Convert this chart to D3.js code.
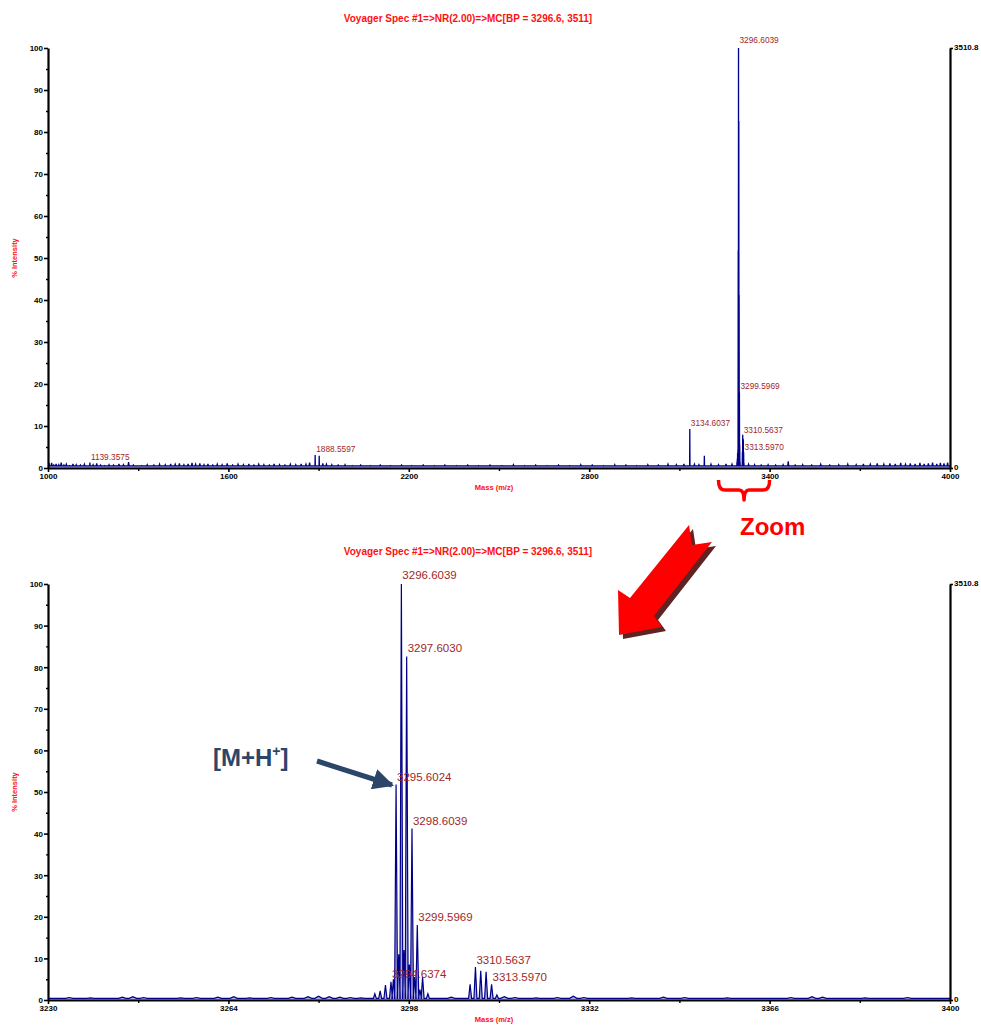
<!DOCTYPE html>
<html><head><meta charset="utf-8">
<script src="https://cdn.jsdelivr.net/npm/d3@7"></script>
<style>
body{margin:0;background:#fff;}
svg{display:block;font-family:"Liberation Sans",Arial,sans-serif;}
</style></head>
<body>
<svg id="c" width="981" height="1025"></svg>
<script>
// ---------------- DATA ----------------
const titleText = "Voyager Spec #1=>NR(2.00)=>MC[BP = 3296.6, 3511]";
const rightTopLabel = "3510.8";
const topXTicks = [1000, 1600, 2200, 2800, 3400, 4000];
const topXMinor = [1300, 1900, 2500, 3100, 3700];
const botXTicks = [3230, 3264, 3298, 3332, 3366, 3400];
const botXMinor = [3247, 3281, 3315, 3349, 3383];
const yTicks = [0,10,20,30,40,50,60,70,80,90,100];
const yMinor = [5,15,25,35,45,55,65,75,85,95];

// isotope cluster around m/z 3296 : [m/z, % intensity]
const clusterPeaks = [
  [3291.6,1.5],[3292.6,2.2],[3293.6,3.6],[3294.64,4.4],
  [3295.10,5.0],[3295.60,51.8],[3296.10,11],[3296.60,100],[3297.10,12],[3297.60,82.6],
  [3298.10,8.5],[3298.60,41.2],[3299.10,5.5],[3299.60,18.0],[3300.10,2.5],[3300.60,5.6],[3301.6,1.5],
  [3309.55,3.8],[3310.56,7.9],[3311.56,7.0],[3312.57,6.8],[3313.60,3.8],[3314.6,1.2]
];
// other peaks in the full-range spectrum
const otherPeaks = [[1139.36,1.3],[1888.56,3.1],[1902,2.9],[3134.60,9.3],[3183,2.9]];
// baseline noise, full range
const fullNoise = [
 [1004,0.9],[1012,1.2],[1019,0.7],[1027,1.0],[1036,0.8],[1044,1.3],[1053,0.7],[1061,0.9],[1072,0.6],[1083,1.0],
 [1094,0.8],[1108,0.7],[1121,0.9],[1150,0.8],[1162,1.1],[1175,0.7],[1188,0.6],[1203,0.8],[1218,0.7],[1236,1.0],
 [1251,0.8],[1268,1.4],[1284,0.7],[1312,0.6],[1330,0.8],[1352,0.7],[1371,0.9],[1390,0.8],[1408,1.0],[1423,0.9],
 [1437,1.1],[1452,0.8],[1466,1.0],[1479,1.2],[1491,0.9],[1505,1.1],[1519,0.8],[1532,1.0],[1548,0.7],[1563,0.9],
 [1579,0.8],[1596,1.1],[1614,0.7],[1632,0.9],[1650,0.8],[1668,1.0],[1685,0.7],[1701,0.9],[1718,0.8],[1736,0.7],
 [1752,1.0],[1770,0.8],[1788,0.7],[1806,0.9],[1824,0.8],[1842,1.0],[1858,0.9],[1870,1.3],[1914,1.1],[1926,0.9],
 [1944,0.8],[1965,0.7],[1988,0.8],[2012,0.6],[2040,0.7],[2072,0.6],[2105,0.7],[2140,0.6],[2176,0.7],[2210,0.6],
 [2248,0.7],[2285,0.6],[2320,0.7],[2358,0.6],[2396,0.7],[2432,0.6],[2470,0.7],[2510,0.6],[2548,0.8],[2585,0.6],
 [2622,0.7],[2660,0.6],[2698,0.7],[2735,0.6],[2772,0.8],[2810,0.7],[2848,0.6],[2885,0.8],[2922,0.7],[2958,0.6],
 [2995,0.8],[3030,0.7],[3062,0.9],[3090,0.8],[3115,1.0],[3150,0.9],[3165,0.8],[3205,0.9],[3230,0.8],[3255,1.0],
 [3275,0.9],[3330,0.9],[3350,0.8],[3372,0.7],[3395,0.8],[3420,0.7],[3445,0.8],[3462,1.6],[3485,0.7],[3510,0.8],
 [3540,0.7],[3570,0.9],[3600,0.7],[3630,0.8],[3660,0.9],[3688,0.8],[3712,1.0],[3735,0.9],[3758,1.1],[3780,0.9],
 [3800,1.1],[3818,1.0],[3836,1.2],[3852,0.9],[3868,1.1],[3884,1.0],[3900,1.2],[3914,1.0],[3928,1.1],[3942,1.3],
 [3956,1.0],[3968,1.2],[3980,1.1],[3992,1.3]
];
// baseline noise, zoomed range
const zoomNoise = [
 [3234,0.6],[3238,0.5],[3244,0.7],[3246,0.8],[3248,0.6],[3255,0.5],[3258,0.6],[3262,0.7],[3265,0.8],[3268,0.5],
 [3272,0.6],[3276,0.7],[3279,0.8],[3281,0.9],[3283,0.8],[3285,0.7],[3287,0.6],[3289,0.5],[3306,0.7],[3316,0.8],
 [3318,0.6],[3322,0.5],[3326,0.6],[3329,0.9],[3331,0.6],[3340,0.5],[3346,0.7],[3350,0.6],[3358,0.5],[3370,0.6],
 [3374,0.8],[3376,0.7],[3384,0.5],[3392,0.6]
];
// peak labels: [m/z, label level (% intensity), text]
const fullLabels = [
  [3296.60,100.7,"3296.6039"],[3299.60,18.3,"3299.5969"],[3134.60,9.5,"3134.6037"],
  [3310.56,7.9,"3310.5637"],[3313.60,3.8,"3313.5970"],[1139.36,1.4,"1139.3575"],[1888.56,3.3,"1888.5597"]
];
const zoomLabels = [
  [3296.60,100.7,"3296.6039"],[3297.60,83.2,"3297.6030"],[3295.60,52.2,"3295.6024"],
  [3298.60,41.6,"3298.6039"],[3299.60,18.5,"3299.5969"],[3294.64,4.8,"3294.6374"],
  [3310.56,8.2,"3310.5637"],[3313.60,4.1,"3313.5970"]
];

// ---------------- DRAW ----------------
const svg = d3.select("#c");
const L = 48, R = 950;

function profile(peaks, hw, hwNoise, noise){
  return peaks.map(p=>[p[0],p[1],hw]).concat(noise.map(p=>[p[0],p[1],hwNoise]))
    .sort((a,b)=>a[0]-b[0]);
}

function panel(cfg){
  const g = svg.append("g");
  const x = d3.scaleLinear().domain(cfg.xdom).range([L,R]);
  const y = d3.scaleLinear().domain([0,100]).range([cfg.y0,cfg.y1]);
  const base = cfg.base;

  g.append("text").attr("x",468).attr("y",cfg.titleY).attr("text-anchor","middle")
   .attr("fill","#ff1010").attr("font-weight","bold").attr("font-size",10).text(titleText);

  const pk = profile(cfg.peaks, cfg.hw, cfg.hwNoise, cfg.noise);
  const pts = [[cfg.xdom[0], base]];
  pk.forEach(p=>{ pts.push([p[0]-p[2], base]); pts.push([p[0], p[1]]); pts.push([p[0]+p[2], base]); });
  pts.push([cfg.xdom[1], base]);
  const area = d3.area().x(d=>x(d[0])).y0(y(0)).y1(d=>y(d[1]));
  const line = d3.line().x(d=>x(d[0])).y(d=>y(d[1]));
  g.append("path").attr("d",area(pts)).attr("fill","#a8a8dc");
  g.append("path").attr("d",line(pts)).attr("fill","none").attr("stroke","#000088")
   .attr("stroke-width",cfg.sw).attr("stroke-linejoin","miter");

  g.selectAll("text.pl").data(cfg.labels).join("text").attr("class","pl")
   .attr("x",d=>x(d[0])+1).attr("y",d=>y(d[1])-2)
   .attr("fill","#a02828").attr("font-size",cfg.lfs).text(d=>d[2]);

  const ax = (sel)=>sel.selectAll("text").attr("font-weight","bold").attr("font-size",8).attr("fill","#000");
  const yA = g.append("g").attr("transform",`translate(${L},0)`)
   .call(d3.axisLeft(y).tickValues(yTicks).tickSize(4).tickSizeOuter(0).tickPadding(1));
  yA.call(ax); yA.select(".domain").attr("stroke-width",2.2);
  yA.selectAll(".tick line").attr("stroke-width",1.6);
  yA.selectAll(".tick text").attr("dy","0.36em");
  const yM = g.append("g").attr("transform",`translate(${L},0)`)
   .call(d3.axisLeft(y).tickValues(yMinor).tickSize(2).tickFormat(""));
  yM.select(".domain").remove();
  yM.selectAll(".tick line").attr("stroke-width",1.4);

  const xA = g.append("g").attr("transform",`translate(0,${cfg.y0})`)
   .call(d3.axisBottom(x).tickValues(cfg.xt).tickSize(4).tickSizeOuter(0).tickPadding(1).tickFormat(d3.format("d")));
  xA.call(ax); xA.select(".domain").attr("stroke-width",2.2);
  xA.selectAll(".tick line").attr("stroke-width",1.6);
  const xM = g.append("g").attr("transform",`translate(0,${cfg.y0})`)
   .call(d3.axisBottom(x).tickValues(cfg.xm).tickSize(3).tickFormat(""));
  xM.select(".domain").remove();
  xM.selectAll(".tick line").attr("stroke-width",1.4);

  const rA = g.append("g").attr("transform",`translate(${R},0)`)
   .call(d3.axisRight(y).tickValues([0,100]).tickSize(3).tickSizeOuter(0).tickPadding(1)
     .tickFormat(d=> d===100 ? rightTopLabel : "0"));
  rA.call(ax); rA.select(".domain").attr("stroke-width",2.2);
  rA.selectAll(".tick line").attr("stroke-width",1.6);
  rA.selectAll(".tick text").attr("dy","0.2em");

  g.append("text").attr("transform",`translate(17,${(cfg.y0+cfg.y1)/2}) rotate(-90)`)
   .attr("text-anchor","middle").attr("fill","#ff1010").attr("font-weight","bold").attr("font-size",7.5)
   .text("% Intensity");
  g.append("text").attr("x",494).attr("y",cfg.y0+22).attr("text-anchor","middle")
   .attr("fill","#ff1010").attr("font-weight","bold").attr("font-size",7.5).text("Mass (m/z)");
  return {x,y};
}

const fullPanel = panel({xdom:[1000,4000], y0:468, y1:48, titleY:22, xt:topXTicks, xm:topXMinor,
  peaks: clusterPeaks.concat(otherPeaks), noise: fullNoise, hw:0.6, hwNoise:1.8, sw:1.3, base:0.5,
  labels: fullLabels, lfs:8.3});
const zoomPanel = panel({xdom:[3230,3400], y0:1000, y1:584, titleY:555, xt:botXTicks, xm:botXMinor,
  peaks: clusterPeaks, noise: zoomNoise, hw:0.28, hwNoise:0.7, sw:1.2, base:0.4,
  labels: zoomLabels, lfs:11.5});

// ---- Zoom annotation ----
const bx0 = fullPanel.x(3230), bx1 = fullPanel.x(3400), bxm = (bx0+bx1)/2;
svg.append("path")
  .attr("d",`M${bx0},480 Q${bx0},490 ${bx0+6},490 L${bxm-5},490 Q${bxm},490 ${bxm},500 Q${bxm},490 ${bxm+5},490 L${bx1-6},490 Q${bx1},490 ${bx1},480`)
  .attr("fill","none").attr("stroke","#ff0000").attr("stroke-width",3.5).attr("stroke-linejoin","round");
svg.append("text").attr("x",740).attr("y",535).attr("fill","#ff0000").attr("font-weight","bold")
  .attr("font-size",24).text("Zoom");

const arrowPts = [[619,635],[618,590],[630,598],[689,525],[692,545],[712,542],[654,616],[662,627]];
const arrowStr = arrowPts.map(p=>p.join(",")).join(" ");
svg.append("polygon").attr("points",arrowStr).attr("fill","#5e2424").attr("transform","translate(4,4)");
svg.append("polygon").attr("points",arrowStr).attr("fill","#ff0000");

const mh = svg.append("text").attr("x",213).attr("y",766).attr("fill","#2b4668")
  .attr("font-weight","bold").attr("font-size",24);
mh.append("tspan").text("[M+H");
mh.append("tspan").attr("font-size",14).attr("dy",-10).text("+");
mh.append("tspan").attr("dy",10).text("]");
svg.append("defs").append("marker").attr("id","ah").attr("viewBox","0 0 10 10")
  .attr("refX",9).attr("refY",5).attr("markerWidth",4.2).attr("markerHeight",4.2)
  .attr("markerUnits","strokeWidth").attr("orient","auto")
  .append("path").attr("d","M0,0 L10,5 L0,10 Z").attr("fill","#2b4668");
svg.append("line").attr("x1",317).attr("y1",761).attr("x2",392).attr("y2",785)
  .attr("stroke","#2b4668").attr("stroke-width",5).attr("marker-end","url(#ah)");
</script>
</body></html>
